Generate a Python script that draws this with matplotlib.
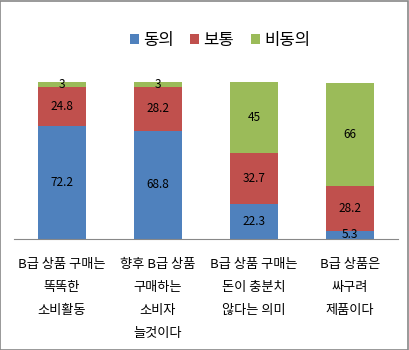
import matplotlib.pyplot as plt
import numpy as np

plt.rcParams['font.family'] = ['Noto Sans CJK KR', 'DejaVu Sans']

categories = ['B급 상품 구매는\n똑똑한\n소비활동',
              '향후 B급 상품\n구매하는\n소비자\n늘것이다',
              'B급 상품 구매는\n돈이 충분치\n않다는 의미',
              'B급 상품은\n싸구려\n제품이다']
agree = [72.2, 68.8, 22.3, 5.3]
neutral = [24.8, 28.2, 32.7, 28.2]
disagree = [3, 3, 45, 66]
series_names = ['동의', '보통', '비동의']
colors = ['#4F81BD', '#C0504D', '#9BBB59']

fig = plt.figure(figsize=(4.09, 3.5), dpi=100)
ax = fig.add_axes([14 / 409, 111 / 350, 384 / 409, 157 / 350])

x = np.arange(len(categories))
bottom = np.zeros(len(categories))
for vals, name, c in zip([agree, neutral, disagree], series_names, colors):
    vals = np.array(vals, dtype=float)
    ax.bar(x, vals, width=0.5, bottom=bottom, color=c, label=name)
    for xi, b, v in zip(x, bottom, vals):
        ax.text(xi, b + v / 2, f'{v:g}', ha='center', va='center', fontsize=8.5, color='black')
    bottom += vals

ax.set_xlim(-0.5, 3.5)
ax.set_ylim(0, 100)
ax.set_yticks([])
ax.set_xticks(x)
ax.set_xticklabels(categories, fontsize=9.5, linespacing=2.0, va='top')
ax.tick_params(axis='x', length=0, pad=14)
for s in ['top', 'right', 'left']:
    ax.spines[s].set_visible(False)
ax.spines['bottom'].set_color('#888888')

fig.legend(loc='center', bbox_to_anchor=(220 / 409, 1 - 40 / 350), ncol=3, frameon=False,
           fontsize=12, handlelength=0.55, handleheight=0.55, handletextpad=0.25, columnspacing=1.0)

# grey outline around the whole figure
fig.patches.append(plt.Rectangle((0.001, 0.001), 0.997, 0.996, transform=fig.transFigure,
                                 fill=False, edgecolor='#888888', linewidth=1.2))

fig.savefig('out.png', dpi=100)
